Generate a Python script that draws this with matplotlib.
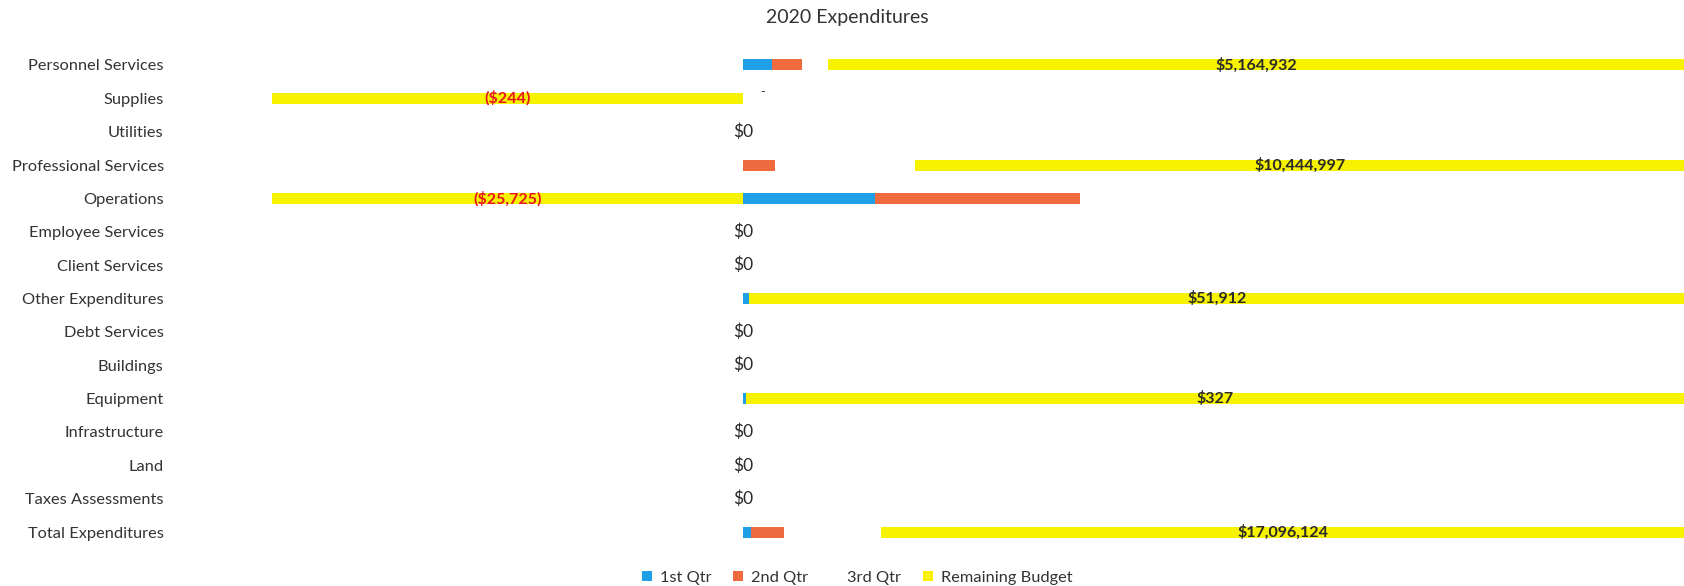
import matplotlib
matplotlib.use("Agg")
import matplotlib.pyplot as plt
from matplotlib.patches import Patch
import numpy as np

categories = ["Personnel Services", "Supplies", "Utilities", "Professional Services",
              "Operations", "Employee Services", "Client Services", "Other Expenditures",
              "Debt Services", "Buildings", "Equipment", "Infrastructure", "Land",
              "Taxes Assessments", "Total Expenditures"]

# shares of each row (100% stacked)
q1 = [0.031, 0, 0, 0, 0.140, 0, 0, 0.006, 0, 0, 0.003, 0, 0, 0, 0.008]
q2 = [0.032, 0, 0, 0.034, 0.218, 0, 0, 0, 0, 0, 0, 0, 0, 0, 0.035]
q3 = [0.027, 0.5, 0, 0.149, 0.142, 0, 0, 0, 0, 0, 0, 0, 0, 0, 0.104]
remaining = [0.910, -0.5, 0, 0.817, -0.5, 0, 0, 0.994, 0, 0, 0.997, 0, 0, 0, 0.853]
remaining_dollars = [5164932, -244, 0, 10444997, -25725, 0, 0, 51912, 0, 0, 327, 0, 0, 0, 17096124]

series_names = ["1st Qtr", "2nd Qtr", "3rd Qtr", "Remaining Budget"]
series = [q1, q2, q3, remaining]
colors = ["#1FA0E6", "#EF6B3F", "#FFFFFF", "#F6F200"]

plt.rcParams['font.family'] = ['Lato', 'DejaVu Sans']

fig = plt.figure(figsize=(16.84, 5.86), dpi=100)
ax = fig.add_axes([272/1684, 1 - 548.7/586, (1685 - 272)/1684, (548.7 - 48.3)/586])

y = np.arange(len(categories))
pos_base = np.zeros(len(categories))
neg_base = np.zeros(len(categories))
containers = []
for name, vals, col in zip(series_names, series, colors):
    vals = np.array(vals, dtype=float)
    left = np.where(vals >= 0, pos_base, neg_base + vals)
    bars = ax.barh(y, np.abs(vals), left=left, height=0.33, color=col, linewidth=0)
    containers.append(bars)
    pos_base += np.where(vals >= 0, vals, 0)
    neg_base += np.where(vals < 0, vals, 0)

# labels for remaining budget
for bar, v in zip(containers[3], remaining_dollars):
    cx = bar.get_x() + bar.get_width() / 2
    cy = bar.get_y() + bar.get_height() / 2
    if v < 0:
        txt = "(${:,})".format(-v)
        col = "#E8141E"
    else:
        txt = "${:,}".format(v)
        col = "#2a2a2a"
    if v != 0:
        ax.text(cx, cy, txt, ha="center", va="center", fontsize=11.5,
                fontweight="bold", color=col)
    else:
        ax.text(cx, cy, txt, ha="center", va="center", fontsize=12.5, color=col)

# small dash label on Supplies
ax.text(0.021, 1 - 0.18, "-", ha="center", va="center", fontsize=9, color="#333333")

ax.set_xlim(-0.5, 1.0)
ax.set_ylim(len(categories) - 0.5, -0.5)
ax.set_yticks(y)
ax.set_yticklabels(categories, fontsize=11.8, color="#333333")
ax.tick_params(axis="y", length=0, pad=78)
ax.set_xticks([])
for s in ax.spines.values():
    s.set_visible(False)

fig.text(0.503, 1 - 18/586, "2020 Expenditures", ha="center", va="center",
         fontsize=14, color="#333333")

handles = [Patch(facecolor=c, edgecolor="none") for c in colors]
fig.legend(handles, series_names, loc="center", bbox_to_anchor=(0.509, 1 - 578/586),
           ncol=4, frameon=False, fontsize=11.8, handlelength=0.6, handleheight=0.6,
           handletextpad=0.5, columnspacing=1.3, labelcolor="#333333")

fig.savefig("out.png", dpi=100, facecolor="white")
